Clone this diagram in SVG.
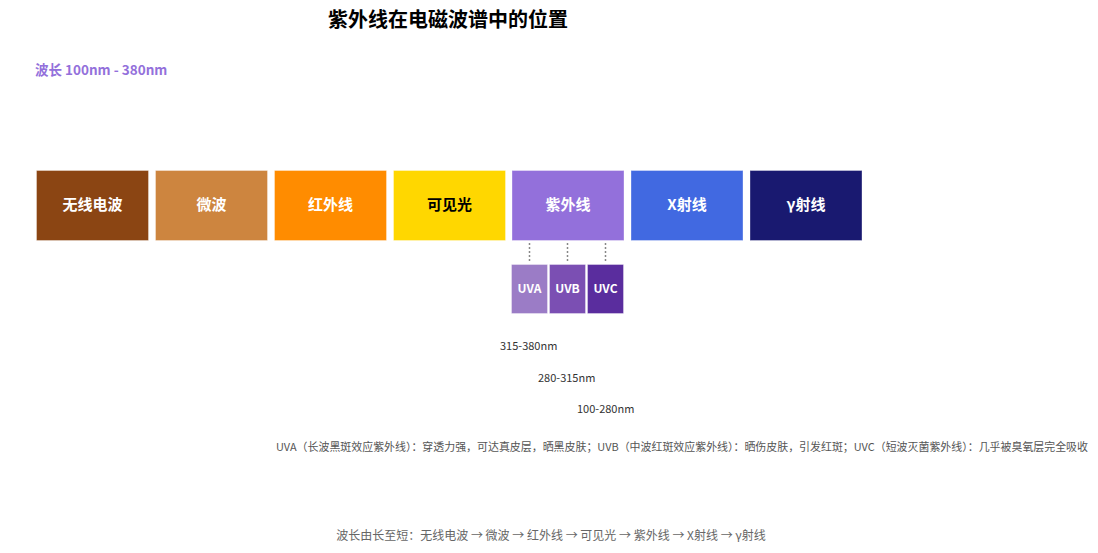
<svg xmlns="http://www.w3.org/2000/svg" width="1098" height="553" viewBox="0 0 1098 553">
<style>
.t{font-family:"Noto Sans CJK SC","Liberation Sans",sans-serif}
.band{stroke:#ffffff;stroke-opacity:0.35;stroke-width:1}
.bl{font-size:15px;font-weight:bold;fill:#ffffff;text-anchor:middle;dominant-baseline:central}
.sl{font-size:12px;font-weight:bold;fill:#ffffff;text-anchor:middle;dominant-baseline:central}
.rng{font-size:11px;fill:#333333}
.dot{stroke:#888888;stroke-width:1.5;stroke-dasharray:2 2;fill:none}
</style>
<rect width="1098" height="553" fill="#ffffff"/>
<text class="t" x="448" y="27" font-size="20" font-weight="bold" text-anchor="middle" fill="#000000">紫外线在电磁波谱中的位置</text>
<text class="t" x="35" y="75" font-size="13.5" font-weight="bold" fill="#9370DB">波长 100nm - 380nm</text>
<g id="radio"><rect class="band" x="36.5" y="170.5" width="112" height="70" fill="#8B4513"/><text class="t bl" x="92.5" y="203.5">无线电波</text></g>
<g id="microwave"><rect class="band" x="155.5" y="170.5" width="112" height="70" fill="#CD853F"/><text class="t bl" x="211.5" y="203.5">微波</text></g>
<g id="infrared"><rect class="band" x="274.5" y="170.5" width="112" height="70" fill="#FF8C00"/><text class="t bl" x="330.5" y="203.5">红外线</text></g>
<g id="visible"><rect class="band" x="393.5" y="170.5" width="112" height="70" fill="#FFD700"/><text class="t bl" x="449.5" y="203.5" style="fill:#000000">可见光</text></g>
<g id="uv"><rect class="band" x="512" y="170.5" width="112" height="70" fill="#9370DB"/><text class="t bl" x="568" y="203.5">紫外线</text></g>
<g id="xray"><rect class="band" x="631" y="170.5" width="112" height="70" fill="#4169E1"/><text class="t bl" x="687" y="203.5">X射线</text></g>
<g id="gamma"><rect class="band" x="750" y="170.5" width="112" height="70" fill="#191970"/><text class="t bl" x="806" y="203.5">γ射线</text></g>
<g id="connectors">
<line class="dot" x1="529.5" y1="243" x2="529.5" y2="261"/>
<line class="dot" x1="567.5" y1="243" x2="567.5" y2="261"/>
<line class="dot" x1="605.5" y1="243" x2="605.5" y2="261"/>
</g>
<g id="uva"><rect class="band" x="511.5" y="264.5" width="36" height="49" fill="#9B7CC6"/><text class="t sl" x="529.5" y="287.5">UVA</text></g>
<g id="uvb"><rect class="band" x="549.5" y="264.5" width="36" height="49" fill="#7B4FB3"/><text class="t sl" x="567.5" y="287.5">UVB</text></g>
<g id="uvc"><rect class="band" x="587.5" y="264.5" width="36" height="49" fill="#5A2D9E"/><text class="t sl" x="605.5" y="287.5">UVC</text></g>
<text class="t rng" x="500" y="349.5">315-380nm</text>
<text class="t rng" x="538" y="381.5">280-315nm</text>
<text class="t rng" x="577" y="412.5">100-280nm</text>
<text class="t" x="276" y="451" font-size="11" fill="#555555" textLength="812" lengthAdjust="spacingAndGlyphs">UVA（长波黑斑效应紫外线）：穿透力强，可达真皮层，晒黑皮肤；UVB（中波红斑效应紫外线）：晒伤皮肤，引发红斑；UVC（短波灭菌紫外线）：几乎被臭氧层完全吸收</text>
<text class="t" x="551" y="540" font-size="12" fill="#666666" text-anchor="middle">波长由长至短：无线电波 → 微波 → 红外线 → 可见光 → 紫外线 → X射线 → γ射线</text>
</svg>
